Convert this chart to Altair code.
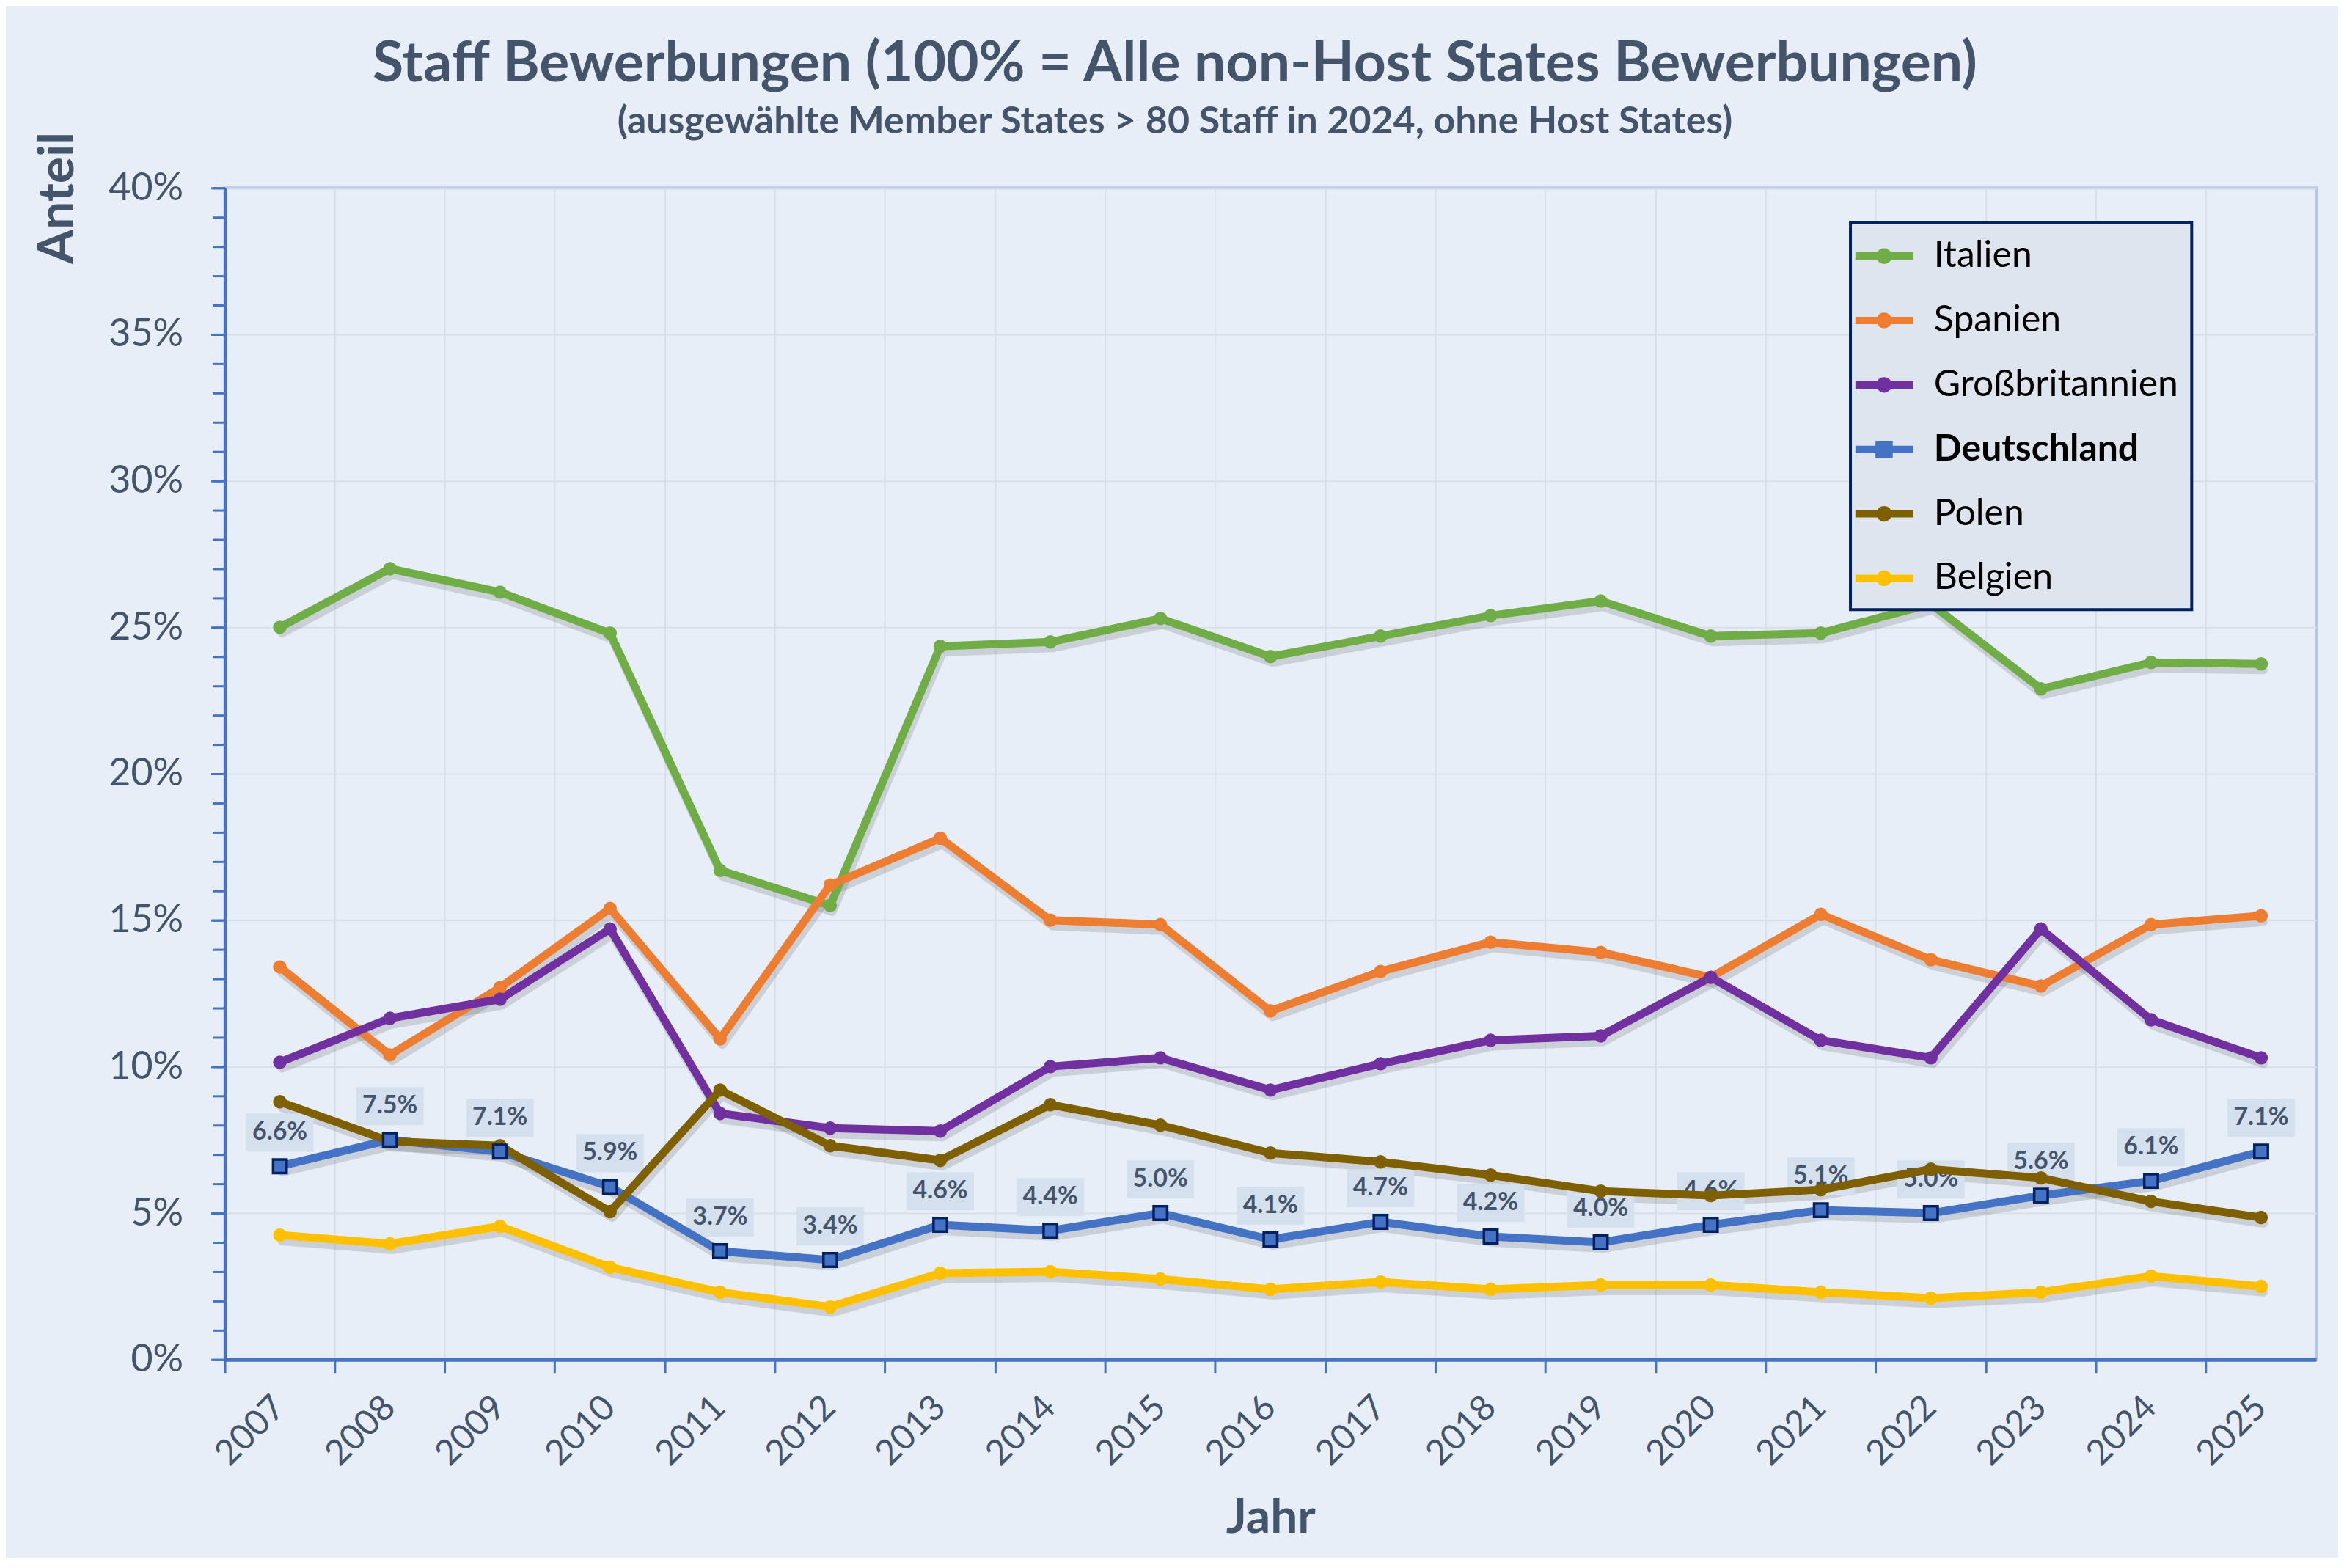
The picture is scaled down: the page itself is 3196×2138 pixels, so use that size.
import altair as alt
import pandas as pd

years = ["2007", "2008", "2009", "2010", "2011", "2012", "2013", "2014", "2015", "2016",
         "2017", "2018", "2019", "2020", "2021", "2022", "2023", "2024", "2025"]

series = ["Italien", "Spanien", "Großbritannien", "Deutschland", "Polen", "Belgien"]
colors = ["#70ad47", "#ed7d31", "#7030a0", "#4472c4", "#7f6000", "#ffc000"]

italien = [25.0, 27.0, 26.2, 24.8, 16.7, 15.5, 24.35, 24.5, 25.3, 24.0, 24.7, 25.4, 25.9, 24.7, 24.8, 25.8, 22.9, 23.8, 23.75]
spanien = [13.4, 10.4, 12.7, 15.4, 10.95, 16.2, 17.8, 15.0, 14.85, 11.9, 13.25, 14.25, 13.9, 13.05, 15.2, 13.65, 12.75, 14.85, 15.15]
gb = [10.15, 11.65, 12.3, 14.7, 8.4, 7.9, 7.8, 10.0, 10.3, 9.2, 10.1, 10.9, 11.05, 13.05, 10.9, 10.3, 14.7, 11.6, 10.3]
deutschland = [6.6, 7.5, 7.1, 5.9, 3.7, 3.4, 4.6, 4.4, 5.0, 4.1, 4.7, 4.2, 4.0, 4.6, 5.1, 5.0, 5.6, 6.1, 7.1]
polen = [8.8, 7.45, 7.3, 5.05, 9.2, 7.3, 6.8, 8.7, 8.0, 7.05, 6.75, 6.3, 5.75, 5.6, 5.8, 6.5, 6.2, 5.4, 4.85]
belgien = [4.25, 3.95, 4.55, 3.15, 2.3, 1.8, 2.95, 3.0, 2.75, 2.4, 2.65, 2.4, 2.55, 2.55, 2.3, 2.1, 2.3, 2.85, 2.5]

values_by_series = [italien, spanien, gb, deutschland, polen, belgien]

rows = []
for name, vals in zip(series, values_by_series):
    for yr, v in zip(years, vals):
        rows.append({"year": yr, "series": name, "value": v / 100.0})
df = pd.DataFrame(rows)

TEXT = "#44546a"
AXIS = "#4472c4"
FONT = "Lato"

major_ticks = [0, 0.05, 0.10, 0.15, 0.20, 0.25, 0.30, 0.35, 0.40]
minor_ticks = [i / 100 for i in range(41)]

x_enc = alt.X(
    "year:O",
    sort=years,
    scale=alt.Scale(type="band", paddingInner=0, paddingOuter=0),
    axis=alt.Axis(
        title="Jahr",
        bandPosition=0,
        labelOffset=0,
        labelAngle=-45,
        labelAlign="right",
        labelBaseline="middle",
        labelPadding=40,
        labelFontSize=48,
        labelFont=FONT,
        labelColor=TEXT,
        tickSize=18,
        tickWidth=3,
        tickColor=AXIS,
        domainColor=AXIS,
        domainWidth=5,
        grid=True,
        gridColor="#d9dfe9",
        gridWidth=2,
        titleFont=FONT,
        titleFontSize=66,
        titleFontWeight="bold",
        titleColor=TEXT,
        titleY=216,
        titleBaseline="middle",
    ),
)

y_scale = alt.Scale(domain=[0, 0.4], nice=False, zero=True)

y_main = alt.Y(
    "value:Q",
    scale=y_scale,
    axis=alt.Axis(
        orient="left",
        values=major_ticks,
        format=".0%",
        title="Anteil",
        titleFont=FONT,
        titleFontSize=68,
        titleFontWeight="bold",
        titleColor=TEXT,
        titleAngle=-90,
        titleX=-227,
        titleY=-77,
        titleAlign="right",
        titleBaseline="middle",
        labelFont=FONT,
        labelFontSize=52,
        labelColor=TEXT,
        labelPadding=38,
        tickSize=19,
        tickWidth=3,
        tickColor=AXIS,
        domainColor=AXIS,
        domainWidth=4,
        grid=True,
        gridColor="#d9dfe9",
        gridWidth=2,
    ),
)

y_minor = alt.Y(
    "value:Q",
    scale=y_scale,
    axis=alt.Axis(
        orient="left",
        values=minor_ticks,
        labels=False,
        title=None,
        domain=False,
        grid=False,
        tickSize=17,
        tickWidth=3,
        tickColor=AXIS,
    ),
)

y_none = alt.Y("value:Q", scale=y_scale, axis=None)

base = alt.Chart(df)

shadow = base.mark_line(
    color="#2b2b2b", opacity=0.15, strokeWidth=12, xOffset=3, yOffset=8,
    strokeJoin="round", strokeCap="round"
).encode(
    x=x_enc, y=y_minor, detail="series:N"
)

de_only = base.transform_filter(alt.datum.series == "Deutschland")

label_boxes = de_only.mark_point(
    filled=True, shape="M-1,-0.565H1V0.565H-1Z", size=8464,
    color="#d5e0ef", opacity=1, yOffset=-46
).encode(x=x_enc, y=y_none)

label_text = de_only.mark_text(
    font=FONT, fontSize=34, fontWeight="bold", color=TEXT,
    baseline="middle", align="center", yOffset=-46
).encode(x=x_enc, y=y_none, text=alt.Text("value:Q", format=".1%"))

# reversed domains keep these (legend-less) scales separate from the legend's colour scale
rev_series = series[::-1]
rev_colors = colors[::-1]

lines = base.mark_line(strokeWidth=11, strokeJoin="round", strokeCap="round").encode(
    x=x_enc,
    y=y_main,
    stroke=alt.Stroke("series:N", scale=alt.Scale(domain=rev_series, range=rev_colors), legend=None),
)

circles = base.transform_filter(alt.datum.series != "Deutschland").mark_point(
    filled=True, size=340, opacity=1, shape="circle"
).encode(
    x=x_enc,
    y=y_none,
    fill=alt.Fill("series:N", scale=alt.Scale(domain=rev_series, range=rev_colors), legend=None),
)

squares = de_only.mark_point(
    filled=True, shape="square", size=340, fill="#4472c4",
    stroke="#002060", strokeWidth=3.5, opacity=1
).encode(x=x_enc, y=y_none)

circ_path = ("M-1.4,-0.18H1.4V0.18H-1.4Z "
             "M-0.38,0A0.38,0.38 0 1,1 0.38,0A0.38,0.38 0 1,1 -0.38,0Z")
sq_path = ("M-1.4,-0.18H1.4V0.18H-1.4Z "
           "M-0.42,-0.42H0.42V0.42H-0.42Z")
shape_range = [circ_path, circ_path, circ_path, sq_path, circ_path, circ_path]

legend_layer = base.transform_filter("false").mark_point(filled=True, opacity=1).encode(
    x=x_enc,
    y=y_none,
    color=alt.Color(
        "series:N",
        scale=alt.Scale(domain=series, range=colors),
        legend=alt.Legend(
            title=None,
            orient="none",
            legendX=2220,
            legendY=47,
            fillColor="#dfe5ee",
            strokeColor="#002060",
            padding=18,
            labelFont=FONT,
            labelFontSize=50,
            labelColor="black",
            labelOffset=40,
            labelFontWeight=alt.ExprRef(expr="datum.value == 'Deutschland' ? 'bold' : 'normal'"),
            symbolSize=3136,
            symbolStrokeWidth=0,
            rowPadding=35,
            labelLimit=600,
        ),
    ),
    shape=alt.Shape(
        "series:N",
        scale=alt.Scale(domain=series, range=shape_range),
        legend=alt.Legend(
            title=None,
            orient="none",
            legendX=2220,
            legendY=47,
        ),
    ),
)

chart = (
    alt.layer(shadow, label_boxes, label_text, lines, circles, squares, legend_layer)
    .resolve_scale(y="shared")
    .resolve_axis(y="independent")
    .properties(
        width=2856,
        height=1600,
        background="#e8eef7",
        padding={"top": 39, "left": 38, "right": 30, "bottom": 20},
        title=alt.TitleParams(
            text="Staff Bewerbungen (100% = Alle non-Host States Bewerbungen)",
            subtitle="(ausgewählte Member States > 80 Staff in 2024, ohne Host States)",
            anchor="middle",
            frame="bounds",
            font=FONT,
            fontSize=77,
            fontWeight="bold",
            color=TEXT,
            subtitleFont=FONT,
            subtitleFontSize=52,
            subtitleFontWeight="bold",
            subtitleColor=TEXT,
            subtitlePadding=15,
            offset=-14,
        ),
    )
    .configure_view(stroke="#b4c7e7", strokeWidth=4)
    .configure_legend(strokeWidth=4)
)

chart.save("out.html", embed_options={"renderer": "svg", "actions": False})
